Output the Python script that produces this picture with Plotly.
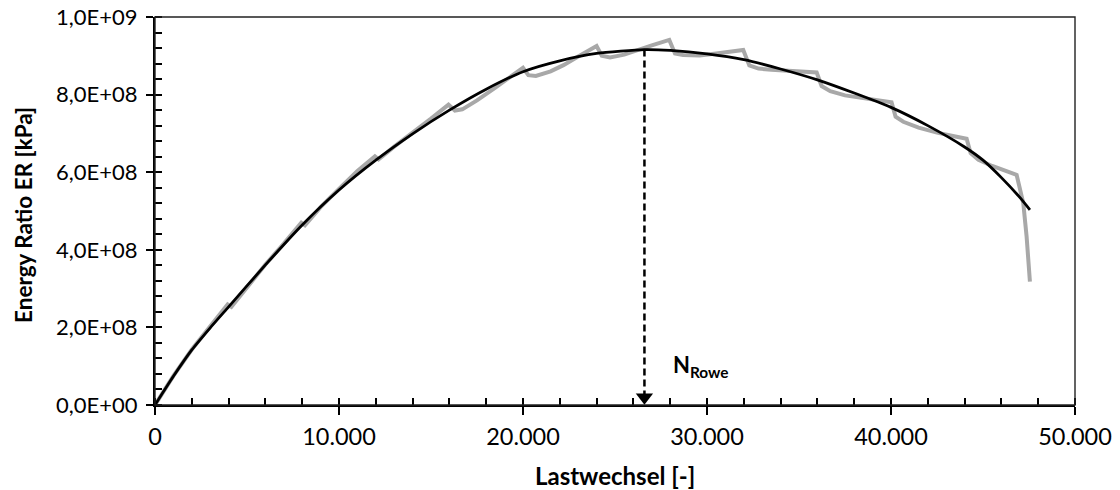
import plotly.graph_objects as go

# Measured data (gray): energy ratio vs load cycles
cycles_meas = [0, 1000, 2000, 3000, 3950, 4150, 5000, 6000, 7000, 7950, 8150, 9000, 10000,
               11000, 11950, 12150, 13000, 14000, 15000, 15950, 16300, 16700, 17500, 18500,
               19300, 20000, 20290, 20700, 21500, 22200, 23000, 24000, 24280, 24730, 25500,
               26200, 27000, 27950, 28260, 28700, 29600, 30500, 31500, 31970, 32300, 32800,
               33500, 34500, 35500, 35960, 36230, 36700, 37500, 38500, 39500, 40030, 40250,
               40670, 41500, 42500, 43500, 44110, 44330, 44750, 45500, 46300, 46830, 47190,
               47370, 47550]
er_meas = [0.0, 0.75e8, 1.43e8, 2.01e8, 2.59e8, 2.53e8, 3.04e8, 3.62e8, 4.16e8, 4.70e8, 4.63e8,
           5.10e8, 5.57e8, 6.03e8, 6.41e8, 6.33e8, 6.66e8, 7.01e8, 7.38e8, 7.74e8, 7.59e8,
           7.62e8, 7.85e8, 8.18e8, 8.45e8, 8.69e8, 8.50e8, 8.48e8, 8.60e8, 8.76e8, 8.98e8,
           9.25e8, 9.00e8, 8.96e8, 9.03e8, 9.15e8, 9.27e8, 9.41e8, 9.06e8, 9.02e8, 9.01e8,
           9.06e8, 9.12e8, 9.15e8, 8.75e8, 8.67e8, 8.64e8, 8.61e8, 8.58e8, 8.57e8, 8.22e8,
           8.09e8, 7.98e8, 7.91e8, 7.84e8, 7.80e8, 7.43e8, 7.30e8, 7.15e8, 7.02e8, 6.92e8,
           6.86e8, 6.49e8, 6.32e8, 6.16e8, 6.03e8, 5.93e8, 5.20e8, 4.34e8, 3.18e8]

# Fit curve (black)
cycles_fit = [0, 1000, 2000, 3000, 4000, 6000, 8000, 10000, 12000, 14000, 16000, 18000, 20000,
              22000, 24000, 26600, 28000, 30000, 32000, 34000, 36000, 38000, 40000, 42000,
              44000, 45000, 46000, 47000, 47550]
er_fit = [0.0, 0.74e8, 1.42e8, 1.99e8, 2.53e8, 3.61e8, 4.64e8, 5.54e8, 6.31e8, 6.99e8, 7.60e8,
          8.14e8, 8.59e8, 8.87e8, 9.06e8, 9.16e8, 9.14e8, 9.05e8, 8.90e8, 8.66e8, 8.38e8,
          8.04e8, 7.67e8, 7.20e8, 6.65e8, 6.31e8, 5.86e8, 5.35e8, 5.03e8]

# Rowe point (peak of fit)
N_ROWE = 26600
ER_PEAK = 9.16e8
ARROW_Y = 0.2e8   # centre of the arrowhead above the x axis

x_tickvals = [0, 10000, 20000, 30000, 40000, 50000]
x_ticktext = ["0", "10.000", "20.000", "30.000", "40.000", "50.000"]
y_tickvals = [0, 2e8, 4e8, 6e8, 8e8, 1e9]
y_ticktext = ["0,0E+00", "2,0E+08", "4,0E+08", "6,0E+08", "8,0E+08", "1,0E+09"]

FONT = "Lato"

fig = go.Figure()
fig.add_trace(go.Scatter(x=cycles_meas, y=er_meas, mode="lines",
                         line=dict(color="#a8a8a8", width=4), showlegend=False, hoverinfo="skip"))
fig.add_trace(go.Scatter(x=cycles_fit, y=er_fit, mode="lines",
                         line=dict(color="black", width=2.8, shape="spline", smoothing=0.6),
                         showlegend=False, hoverinfo="skip"))
fig.add_trace(go.Scatter(x=[N_ROWE, N_ROWE], y=[ER_PEAK, ARROW_Y], mode="lines",
                         line=dict(color="black", width=2.5, dash="7px,4px"),
                         showlegend=False, hoverinfo="skip"))
fig.add_trace(go.Scatter(x=[N_ROWE], y=[ARROW_Y], mode="markers",
                         marker=dict(symbol="triangle-down", size=15, color="black"),
                         showlegend=False, hoverinfo="skip"))
# invisible trace on overlay axes so they get drawn
fig.add_trace(go.Scatter(x=[0], y=[0], xaxis="x2", yaxis="y2", mode="markers",
                         marker=dict(opacity=0), showlegend=False, hoverinfo="skip"))

fig.add_annotation(x=N_ROWE + 1450, y=1.0e8, xref="x", yref="y", xanchor="left", yanchor="middle",
                   text="<b>N<sub>Rowe</sub></b>", showarrow=False,
                   font=dict(family=FONT, size=22, color="black"))

# axis titles
fig.add_annotation(x=0.5, y=0, xref="paper", yref="paper", xanchor="center", yanchor="middle",
                   yshift=-70, text="<b>Lastwechsel [-]</b>", showarrow=False,
                   font=dict(family=FONT, size=24, color="black"))
fig.add_annotation(x=0, y=0.5, xref="paper", yref="paper", xanchor="center", yanchor="middle",
                   xshift=-132, yshift=-4, textangle=-90, text="<b>Energy Ratio ER [kPa]</b>",
                   showarrow=False, font=dict(family=FONT, size=22.5, color="black"))

# thin frame on top / right
fig.add_shape(type="rect", xref="paper", yref="paper", x0=0, y0=0, x1=1, y1=1,
              line=dict(color="#222222", width=1.4), layer="above")

axis_common = dict(showgrid=False, zeroline=False, showline=True, linecolor="black", linewidth=2,
                   mirror=False, automargin=False, ticklabeloverflow="allow")

fig.update_layout(
    width=1120, height=490,
    margin=dict(l=155, r=45, t=17, b=85),
    paper_bgcolor="white", plot_bgcolor="white",
    xaxis=dict(range=[0, 50000], tickvals=x_tickvals, ticktext=x_ticktext,
               ticks="outside", ticklen=8, tickwidth=2, tickcolor="black", ticklabelstandoff=2,
               tickfont=dict(family=FONT, size=23.5, color="black"),
               minor=dict(dtick=2000, ticks="inside", ticklen=7, tickwidth=2, tickcolor="black"),
               **axis_common),
    yaxis=dict(range=[0, 1e9], tickvals=y_tickvals, ticktext=y_ticktext,
               ticks="outside", ticklen=7, tickwidth=2, tickcolor="black", ticklabelstandoff=4,
               tickfont=dict(family=FONT, size=22, color="black"),
               minor=dict(dtick=0.4e8, ticks="inside", ticklen=7, tickwidth=2, tickcolor="black"),
               **axis_common),
    xaxis2=dict(overlaying="x", matches="x", anchor="y2", showgrid=False, zeroline=False,
                showline=False, showticklabels=False, tickvals=x_tickvals,
                ticks="inside", ticklen=7, tickwidth=2, tickcolor="black"),
    yaxis2=dict(overlaying="y", matches="y", anchor="x2", showgrid=False, zeroline=False,
                showline=False, showticklabels=False, tickvals=y_tickvals,
                ticks="inside", ticklen=7, tickwidth=2, tickcolor="black"),
)

# remove the browser's default 8px body margin so the figure fills the window exactly
fig.write_html("out.html", config={"displayModeBar": False},
               post_script="document.body.style.margin='0';document.body.style.overflow='hidden';")
